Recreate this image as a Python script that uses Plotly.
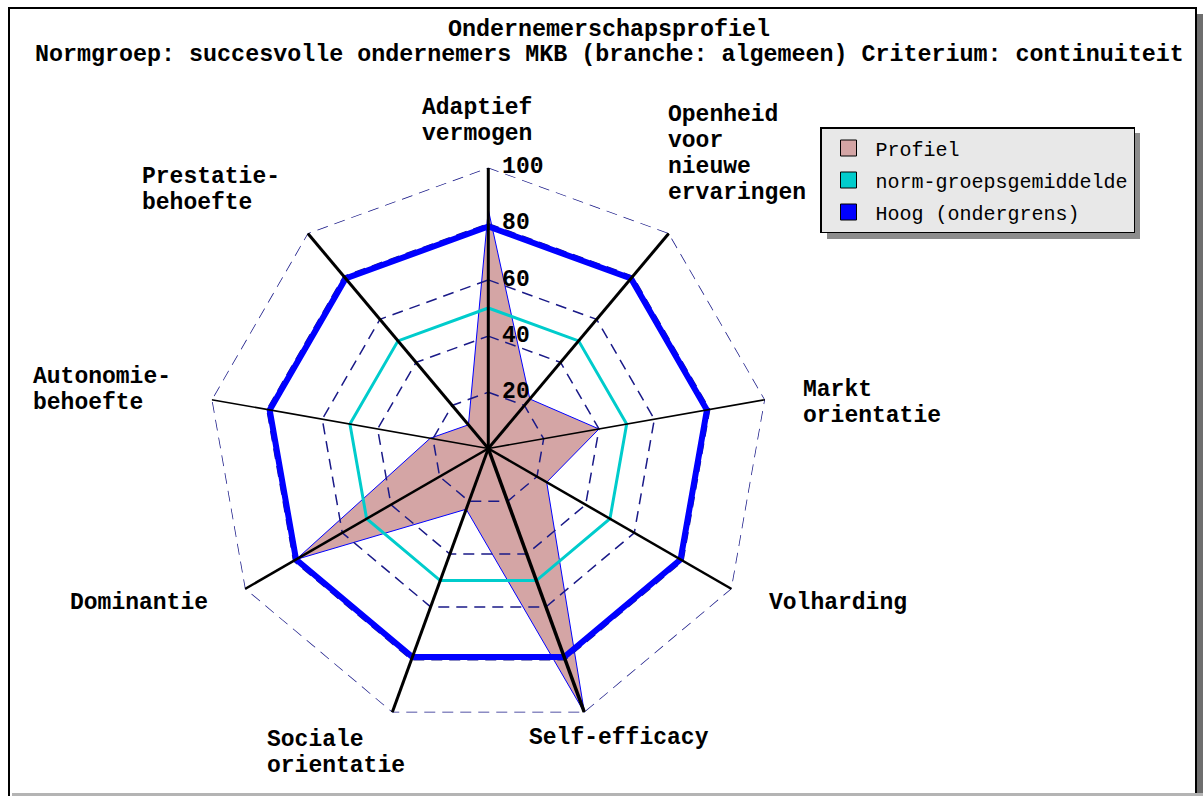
import plotly.graph_objects as go

W, H = 1203, 796

categories = ["Adaptief vermogen", "Openheid voor nieuwe ervaringen", "Markt orientatie",
              "Volharding", "Self-efficacy", "Sociale orientatie", "Dominantie",
              "Autonomie-behoefte", "Prestatie-behoefte"]
profiel = [85, 23, 40, 24, 100, 23, 79, 21, 11]
norm_gemiddelde = [50, 50, 50, 50, 50, 50, 50, 50, 50]
hoog_ondergrens = [79, 79, 79, 79, 79, 79, 79, 79, 79]
grid_levels = [20, 40, 60, 80, 100]
tick_labels = ["20", "40", "60", "80", "100"]
title_lines = ["Ondernemerschapsprofiel",
               "Normgroep: succesvolle ondernemers MKB (branche: algemeen) Criterium: continuiteit"]

# axis label lines (text) per category
label_lines = [["Adaptief", "vermogen"], ["Openheid", "voor", "nieuwe", "ervaringen"],
               ["Markt", "orientatie"], ["Volharding"], ["Self-efficacy"],
               ["Sociale", "orientatie"], ["Dominantie"], ["Autonomie-", "behoefte"],
               ["Prestatie-", "behoefte"]]
# layout: left x and first-line centre y (pixels), line step
label_pos = [(420, 108), (666, 115), (801, 390), (767, 603), (527, 738),
             (265, 740), (68, 603), (31, 377), (140, 177)]
line_step = 26
spoke_widths = [3, 3, 1.6, 2.5, 3.5, 3, 2.5, 1.6, 3]

MONO = "Liberation Mono"
BOLD = dict(family=MONO, size=23, color="black", weight="bold")
TITLE_FONT = dict(family=MONO, size=23.35, color="black", weight="bold")


def px(x):
    return x / W


def py(y):
    return 1 - y / H


cx, cy, R = 488.3, 448.5, 281

closed = lambda v: list(v) + [v[0]]
theta_c = closed(categories)

fig = go.Figure()

# Profiel filled polygon
fig.add_trace(go.Scatterpolar(r=closed(profiel), theta=theta_c, mode="lines", fill="toself",
                              fillcolor="#D4A5A5", line=dict(color="#0000FF", width=1),
                              showlegend=False, hoverinfo="skip"))
# dashed grid polygons
for lv in grid_levels:
    fig.add_trace(go.Scatterpolar(r=[lv] * (len(categories) + 1), theta=theta_c, mode="lines",
                                  line=dict(color="#1A1A88", width=1.5, dash="11px,7px"),
                                  showlegend=False, hoverinfo="skip"))
# norm mean
fig.add_trace(go.Scatterpolar(r=closed(norm_gemiddelde), theta=theta_c, mode="lines",
                              line=dict(color="#00CCCC", width=3), showlegend=False))
# Hoog
fig.add_trace(go.Scatterpolar(r=closed(hoog_ondergrens), theta=theta_c, mode="lines",
                              line=dict(color="#0000FF", width=6), showlegend=False))
# spokes
for cat, w in zip(categories, spoke_widths):
    fig.add_trace(go.Scatterpolar(r=[0, grid_levels[-1]], theta=[cat, cat], mode="lines",
                                  line=dict(color="black", width=w), showlegend=False,
                                  hoverinfo="skip"))
# radial tick labels
fig.add_trace(go.Scatterpolar(r=grid_levels, theta=[categories[0]] * len(grid_levels),
                              mode="text", text=[" " + t for t in tick_labels],
                              textposition="middle right", textfont=BOLD,
                              showlegend=False, hoverinfo="skip"))

# legend-only entries with square swatches
for name, col, grp in [("Profiel", "#D4A5A5", "a"), ("norm-groepsgemiddelde", "#00CCCC", "b"),
                       ("Hoog (ondergrens)", "#0000FF", "c")]:
    fig.add_trace(go.Scatterpolar(r=[None], theta=[None], mode="markers", name=name,
                                  legendgroup=grp,
                                  marker=dict(symbol="square", size=17, color=col,
                                              line=dict(color="black", width=1))))

annotations = [dict(text=title_lines[1], x=px(609), y=py(55), xref="paper", yref="paper",
                    xanchor="center", yanchor="middle", showarrow=False, font=TITLE_FONT)]
for lines, (lx, ly) in zip(label_lines, label_pos):
    for i, t in enumerate(lines):
        annotations.append(dict(text=t, x=px(lx), y=py(ly + i * line_step), xref="paper",
                                yref="paper", xanchor="left", yanchor="middle",
                                showarrow=False, font=BOLD))

shapes = [
    # legend shadow
    dict(type="rect", xref="paper", yref="paper", x0=px(827), x1=px(1140), y0=py(133), y1=py(239),
         fillcolor="#8C8C8C", line=dict(width=0), layer="below"),
    # frame
    dict(type="rect", xref="paper", yref="paper", x0=px(9), x1=px(1196), y0=py(8), y1=py(812),
         line=dict(color="black", width=2)),
    dict(type="rect", xref="paper", yref="paper", x0=px(1197), x1=px(1203), y0=py(14), y1=py(796),
         fillcolor="#6E6E6E", line=dict(width=0)),
    dict(type="rect", xref="paper", yref="paper", x0=px(12), x1=px(1203), y0=py(793), y1=py(796),
         fillcolor="#B4B4B4", line=dict(width=0)),
]

fig.update_layout(
    width=W, height=H, autosize=False,
    margin=dict(l=0, r=0, t=0, b=0),
    paper_bgcolor="white",
    title=dict(text=title_lines[0], x=px(609), xanchor="center", y=py(28), yanchor="middle",
               font=TITLE_FONT),
    polar=dict(
        domain=dict(x=[px(cx - R), px(cx + R)], y=[py(cy + R), py(cy - R)]),
        gridshape="linear",
        bgcolor="white",
        radialaxis=dict(range=[0, 100], showgrid=False, showline=False, showticklabels=False,
                        ticks=""),
        angularaxis=dict(rotation=90, direction="clockwise", showgrid=False, showline=False,
                         showticklabels=False, ticks="", categoryarray=categories,
                         categoryorder="array"),
    ),
    legend=dict(x=px(820), y=py(127), xanchor="left", yanchor="top", bgcolor="#E8E8E8",
                bordercolor="black", borderwidth=1.5, tracegroupgap=3, itemwidth=44,
                font=dict(family=MONO, size=20, color="black")),
    annotations=annotations,
    shapes=shapes,
)

fig.write_html("out.html", config={"displayModeBar": False},
               post_script="document.body.style.margin='0px';")
